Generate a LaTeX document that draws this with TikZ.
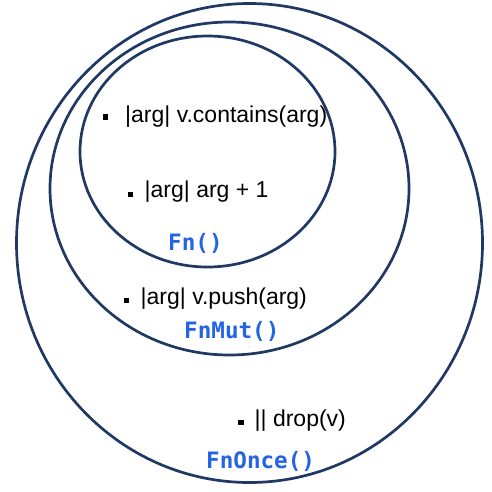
\documentclass[tikz,border=0pt]{standalone}
\usepackage{fontspec}
\setmainfont{Liberation Sans}
\newfontfamily\codefont{DejaVu Sans Mono}
\definecolor{ringcol}{RGB}{31,56,100}
\definecolor{codeblue}{RGB}{35,100,228}
\tikzset{
  ring/.style={draw=ringcol, line width=2.7pt},
  item/.style={anchor=base west, inner sep=0pt, font=\fontsize{23}{27}\selectfont, text=black},
  trait/.style={anchor=base west, inner sep=0pt, font=\codefont\bfseries\fontsize{22.6}{27}\selectfont, text=codeblue},
  bul/.style={fill=black, draw=none, minimum size=5.5pt, inner sep=0pt, rectangle}
}
\begin{document}
\begin{tikzpicture}[x=1pt,y=-1pt]
\useasboundingbox (0,0) rectangle (492,491);
% rings
\draw[ring] (249.5,243) ellipse [x radius=233, y radius=239.5];
\draw[ring] (229.5,188.5) ellipse [x radius=179.5, y radius=166.5];
\draw[ring] (207.5,151.5) ellipse [x radius=127.5, y radius=115.5];
% items
\node[bul] (b1) at (105.5,117) {};
\node[item] (t1) at (125,122) {|arg| v.contains(arg)};
\node[bul] (b2) at (130.5,194.5) {};
\node[item] (t2) at (144.5,197) {|arg| arg + 1};
\node[bul] (b3) at (126.5,300.5) {};
\node[item] (t3) at (140.5,304) {|arg| v.push(arg)};
\node[bul] (b4) at (241,422.5) {};
\node[item] (t4) at (254.5,426) {|| drop(v)};
% trait labels
\node[trait] (fn) at (168,250) {Fn()};
\node[trait] (fnmut) at (184,338) {FnMut()};
\node[trait] (fnonce) at (206,468) {FnOnce()};
\end{tikzpicture}
\end{document}
